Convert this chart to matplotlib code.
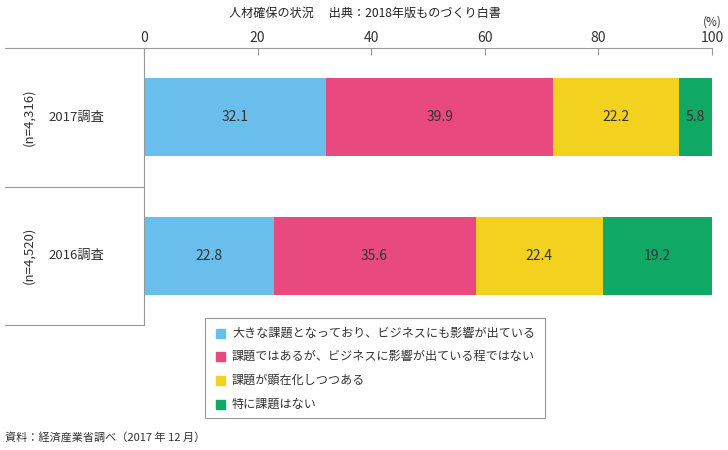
import matplotlib.pyplot as plt
from matplotlib.lines import Line2D
from matplotlib.patches import Rectangle

plt.rcParams['font.family'] = ['Noto Sans CJK JP', 'DejaVu Sans']

surveys = ['2017調査', '2016調査']
sample_sizes = ['(n=4,316)', '(n=4,520)']
categories = [
    '大きな課題となっており、ビジネスにも影響が出ている',
    '課題ではあるが、ビジネスに影響が出ている程ではない',
    '課題が顕在化しつつある',
    '特に課題はない',
]
values = [
    [32.1, 22.8],
    [39.9, 35.6],
    [22.2, 22.4],
    [5.8, 19.2],
]
colors = ['#69BEEB', '#E8497E', '#F2D21E', '#0FA865']
ticks = [0, 20, 40, 60, 80, 100]

W, H = 728, 450
fig = plt.figure(figsize=(7.28, 4.5), dpi=100)
ax = fig.add_axes([144 / W, 1 - 325 / H, (712 - 144) / W, (325 - 48) / H])

# Stacked bars
rows = list(range(len(surveys)))
left = [0, 0]
for vals, color, name in zip(values, colors, categories):
    ax.barh(rows, vals, left=left, height=0.565, color=color, label=name)
    for r, v, l in zip(rows, vals, left):
        ax.text(l + v / 2, r, f'{v:.1f}', ha='center', va='center', fontsize=10, color='#333333')
    left = [a + b for a, b in zip(left, vals)]

ax.set_xlim(0, 100)
ax.set_ylim(len(surveys) - 0.5, -0.5)
ax.set_yticks([])
ax.xaxis.tick_top()
ax.set_xticks(ticks)
ax.set_xticklabels([str(t) for t in ticks], fontsize=10, color='#333333')
ax.tick_params(axis='x', direction='in', length=5, width=0.8, color='#999999', pad=2)
for s in ['right', 'bottom', 'top']:
    ax.spines[s].set_visible(False)
ax.spines['left'].set_color('#999999')
ax.spines['left'].set_linewidth(0.8)

# Row labels and divider lines (figure pixel coords)
def fx(px):
    return px / W

def fy(py):
    return 1 - py / H

line_kw = dict(color='#999999', linewidth=0.8, transform=fig.transFigure)
fig.add_artist(Line2D([fx(5), fx(712)], [fy(48), fy(48)], **line_kw))
fig.add_artist(Line2D([fx(5), fx(144)], [fy(187), fy(187)], **line_kw))
fig.add_artist(Line2D([fx(5), fx(144)], [fy(325), fy(325)], **line_kw))

for r, (survey, n) in enumerate(zip(surveys, sample_sizes)):
    yd = ax.transData.transform((0, r))[1]
    yf = fig.transFigure.inverted().transform((0, yd))[1]
    fig.text(fx(29), yf, n, rotation=90, ha='center', va='center', fontsize=9.5, color='#333333')
    fig.text(fx(76), yf, survey, ha='center', va='center', fontsize=9.5, color='#333333')

fig.text(fx(365), fy(13), '人材確保の状況　 出典：2018年版ものづくり白書', ha='center', va='center',
         fontsize=8.7, color='#222222')
fig.text(fx(712), fy(22), '(%)', ha='center', va='center', fontsize=8.5, color='#333333')
fig.text(fx(5), fy(437), '資料：経済産業省調べ（2017 年 12 月）', ha='left', va='center',
         fontsize=8, color='#333333')

# Legend box
fig.add_artist(Rectangle((fx(205), fy(418)), fx(545) - fx(205), fy(318) - fy(418),
                         fill=False, edgecolor='#999999', linewidth=0.8, transform=fig.transFigure))
leg_y = [333, 356, 380, 404]
for ly, name, color in zip(leg_y, categories, colors):
    fig.add_artist(Rectangle((fx(216), fy(ly + 5)), fx(9), fx(9) * W / H, color=color,
                             transform=fig.transFigure))
    fig.text(fx(232), fy(ly), name, ha='left', va='center', fontsize=8.7, color='#333333')

fig.savefig('out.png', dpi=100)
